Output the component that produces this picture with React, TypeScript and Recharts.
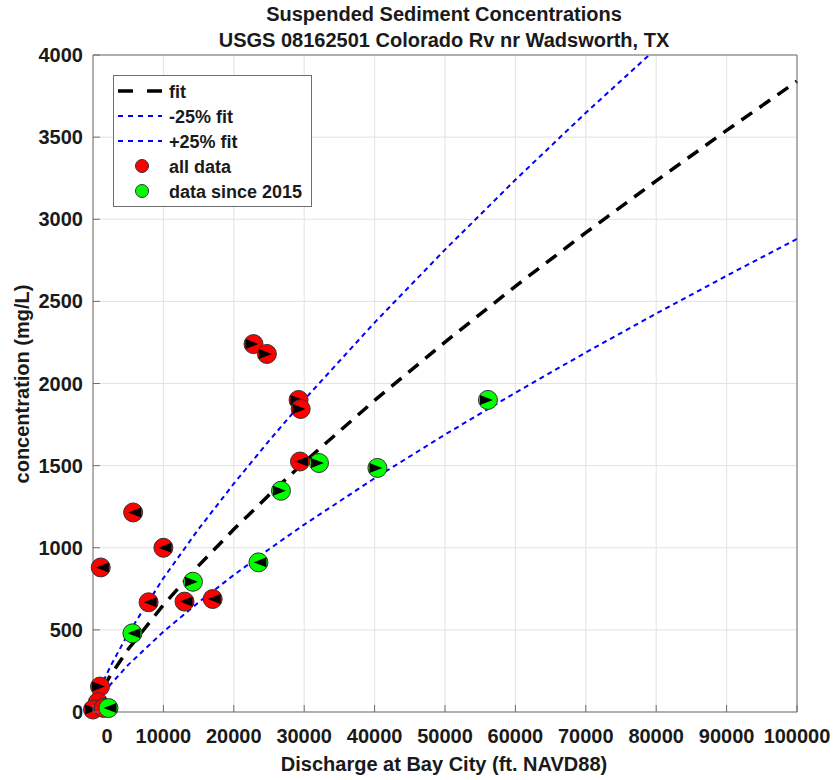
import React from 'react';
import { ComposedChart, Line, Scatter, XAxis, YAxis, CartesianGrid, Legend } from 'recharts';

const FONT = '"Liberation Sans", Arial, Helvetica, sans-serif';
const AXIS_COLOR = '#6e6e6e';
const TEXT_COLOR = '#1a1a1a';

const xTicks = [0, 10000, 20000, 30000, 40000, 50000, 60000, 70000, 80000, 90000, 100000];
const yTicks = [0, 500, 1000, 1500, 2000, 2500, 3000, 3500, 4000];

// fit curves
const fitX = [1500, 2500, 5000, 10000, 15000, 20000, 25000, 30000, 40000, 50000, 60000, 70000, 80000, 90000, 100000];
const fitY = [151, 224, 382, 652, 891, 1112, 1321, 1521, 1897, 2252, 2592, 2918, 3234, 3541, 3840];
const minusFitY = [113, 168, 287, 489, 668, 834, 991, 1141, 1423, 1689, 1944, 2189, 2426, 2656, 2880];
const plusFitX = [1500, 2500, 5000, 10000, 15000, 20000, 25000, 30000, 40000, 50000, 60000, 70000, 79000];
const plusFitY = [189, 280, 478, 815, 1114, 1390, 1651, 1901, 2371, 2815, 3240, 3648, 4000];

// all data (red)
const allX = [22800, 24700, 29200, 29500, 29400, 5700, 10000, 1100, 7900, 13000, 17000, 1000, 700, 0, 1500];
const allY = [2240, 2180, 1900, 1845, 1525, 1215, 1000, 880, 668, 672, 688, 155, 60, 15, 25];
const allDir = ['R', 'R', 'R', 'R', 'L', 'L', 'L', 'L', 'L', 'L', 'L', 'R', 'L', 'R', 'L'];

// data since 2015 (green)
const sinceX = [5600, 14200, 23500, 26700, 32100, 40400, 56100, 2200];
const sinceY = [479, 793, 911, 1347, 1516, 1486, 1900, 24];
const sinceDir = ['L', 'R', 'L', 'R', 'R', 'R', 'R', 'L'];

const fitData = fitX.map((x, i) => ({ x, y: fitY[i] }));
const minusData = fitX.map((x, i) => ({ x, y: minusFitY[i] }));
const plusData = plusFitX.map((x, i) => ({ x, y: plusFitY[i] }));
const allData = allX.map((x, i) => ({ x, y: allY[i], dir: allDir[i] }));
const sinceData = sinceX.map((x, i) => ({ x, y: sinceY[i], dir: sinceDir[i] }));

const Marker = ({ cx, cy, fill, dir }: any) => {
  if (cx == null || cy == null) return null;
  const pts =
    dir === 'R'
      ? `${cx - 8},${cy - 5} ${cx - 8},${cy + 5} ${cx + 5},${cy}`
      : `${cx + 8},${cy - 5} ${cx + 8},${cy + 5} ${cx - 5},${cy}`;
  return (
    <g>
      <circle cx={cx} cy={cy} r={9.5} fill={fill} stroke="#333" strokeWidth={1} />
      <polygon points={pts} fill="#000" />
    </g>
  );
};

const BottomTick = ({ x, y, payload }: any) => {
  const dx = payload.value === 0 ? 14 : 0;
  return (
    <g>
      <line x1={x} y1={y} x2={x} y2={y - 7} stroke={AXIS_COLOR} />
      <text x={x + dx} y={y + 31} textAnchor="middle" fontFamily={FONT} fontWeight="bold" fontSize={20} fill={TEXT_COLOR}>
        {payload.value}
      </text>
    </g>
  );
};

const LeftTick = ({ x, y, payload }: any) => (
  <g>
    <line x1={x} y1={y} x2={x + 7} y2={y} stroke={AXIS_COLOR} />
    <text x={x - 10} y={y + 7} textAnchor="end" fontFamily={FONT} fontWeight="bold" fontSize={20} fill={TEXT_COLOR}>
      {payload.value}
    </text>
  </g>
);

const TopTick = ({ x, y }: any) => <line x1={x} y1={y} x2={x} y2={y + 7} stroke={AXIS_COLOR} />;
const RightTick = ({ x, y }: any) => <line x1={x} y1={y} x2={x - 7} y2={y} stroke={AXIS_COLOR} />;

const legendRows = [
  { label: 'fit', kind: 'fit' },
  { label: '-25% fit', kind: 'blue' },
  { label: '+25% fit', kind: 'blue' },
  { label: 'all data', kind: 'red' },
  { label: 'data since 2015', kind: 'green' },
];

const LegendBox = () => (
  <svg width={199} height={132} style={{ display: 'block' }}>
    <rect x={0.5} y={0.5} width={198} height={131} fill="#fff" stroke={AXIS_COLOR} />
    {legendRows.map((r, i) => {
      const cy = 16 + i * 25;
      return (
        <g key={r.label}>
          {r.kind === 'fit' && (
            <line x1={5} y1={cy} x2={49} y2={cy} stroke="#000" strokeWidth={3.5} strokeDasharray="15 14" />
          )}
          {r.kind === 'blue' && (
            <line x1={5} y1={cy} x2={49} y2={cy} stroke="#0000ff" strokeWidth={2} strokeDasharray="5 5" />
          )}
          {r.kind === 'red' && <circle cx={29} cy={cy} r={6.5} fill="#ff0000" stroke="#333" />}
          {r.kind === 'green' && <circle cx={29} cy={cy} r={6.5} fill="#00ff00" stroke="#333" />}
          <text x={56} y={cy + 6.5} fontFamily={FONT} fontWeight="bold" fontSize={18} fill={TEXT_COLOR}>
            {r.label}
          </text>
        </g>
      );
    })}
  </svg>
);

export default function App() {
  return (
    <div style={{ position: 'absolute', left: 0, top: 0, width: 835, height: 780, background: '#fff', overflow: 'hidden' }}>
      <ComposedChart width={835} height={780} margin={{ top: 54, right: 37, bottom: 0, left: 0 }}>
        <CartesianGrid stroke="#e2e2e2" strokeWidth={1} />
        <XAxis
          type="number"
          dataKey="x"
          domain={[0, 100000]}
          ticks={xTicks}
          interval={0}
          height={68}
          tickSize={0}
          tickMargin={0}
          tick={<BottomTick />}
          axisLine={{ stroke: AXIS_COLOR }}
        />
        <XAxis
          xAxisId="top"
          orientation="top"
          type="number"
          domain={[0, 100000]}
          ticks={xTicks}
          interval={0}
          height={1}
          tickSize={0}
          tickMargin={0}
          tick={<TopTick />}
          axisLine={{ stroke: AXIS_COLOR }}
        />
        <YAxis
          type="number"
          domain={[0, 4000]}
          ticks={yTicks}
          interval={0}
          width={93}
          tickSize={0}
          tickMargin={0}
          tick={<LeftTick />}
          axisLine={{ stroke: AXIS_COLOR }}
        />
        <YAxis
          yAxisId="right"
          orientation="right"
          type="number"
          domain={[0, 4000]}
          ticks={yTicks}
          interval={0}
          width={1}
          tickSize={0}
          tickMargin={0}
          tick={<RightTick />}
          axisLine={{ stroke: AXIS_COLOR }}
        />
        <Line data={minusData} dataKey="y" type="linear" stroke="#0000ff" strokeWidth={2} strokeDasharray="5 4" dot={false} isAnimationActive={false} />
        <Line data={plusData} dataKey="y" type="linear" stroke="#0000ff" strokeWidth={2} strokeDasharray="5 4" dot={false} isAnimationActive={false} />
        <Line data={fitData} dataKey="y" type="linear" stroke="#000" strokeWidth={3.5} strokeDasharray="13 9" dot={false} isAnimationActive={false} />
        <Scatter
          data={allData}
          dataKey="y"
          isAnimationActive={false}
          shape={(p: any) => <Marker cx={p.cx} cy={p.cy} fill="#ff0000" dir={p.payload.dir} />}
        />
        <Scatter
          data={sinceData}
          dataKey="y"
          isAnimationActive={false}
          shape={(p: any) => <Marker cx={p.cx} cy={p.cy} fill="#00ff00" dir={p.payload.dir} />}
        />
        <Legend
          layout="horizontal"
          verticalAlign="middle"
          align="center"
          content={() => <LegendBox />}
          wrapperStyle={{ left: 113, top: 75, width: 199, height: 132 }}
        />
      </ComposedChart>
      <svg width={835} height={780} style={{ position: 'absolute', left: 0, top: 0, pointerEvents: 'none' }}>
        <text x={444} y={21} textAnchor="middle" fontFamily={FONT} fontWeight="bold" fontSize={20} fill={TEXT_COLOR}>
          Suspended Sediment Concentrations
        </text>
        <text x={444} y={47} textAnchor="middle" fontFamily={FONT} fontWeight="bold" fontSize={20} fill={TEXT_COLOR}>
          USGS 08162501 Colorado Rv nr Wadsworth, TX
        </text>
        <text x={444} y={771} textAnchor="middle" fontFamily={FONT} fontWeight="bold" fontSize={20} fill={TEXT_COLOR}>
          Discharge at Bay City (ft. NAVD88)
        </text>
        <text
          x={0}
          y={0}
          transform="translate(29,384) rotate(-90)"
          textAnchor="middle"
          fontFamily={FONT}
          fontWeight="bold"
          fontSize={20}
          fill={TEXT_COLOR}
        >
          concentration (mg/L)
        </text>
      </svg>
    </div>
  );
}
